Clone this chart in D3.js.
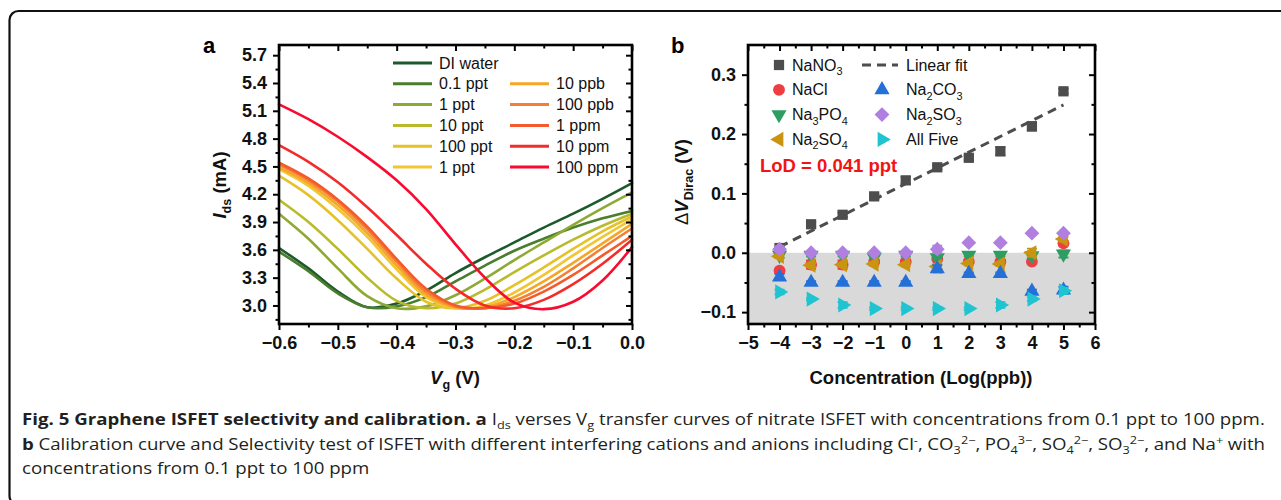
<!DOCTYPE html>
<html>
<head>
<meta charset="utf-8">
<script src="https://cdn.jsdelivr.net/npm/d3@7"></script>
<style>
  body{margin:0;background:#fff;}
  svg{display:block;font-family:"Liberation Sans",Arial,sans-serif;}
</style>
</head>
<body>
<script>
// ---- panel a: Ids vs Vg transfer curves ----
const vg = [-0.6,-0.55,-0.5,-0.45,-0.4,-0.35,-0.3,-0.25,-0.2,-0.15,-0.1,-0.05,0.0];
const idsDIwater = [3.62,3.40,3.15,2.98,3.02,3.16,3.35,3.52,3.68,3.84,3.99,4.15,4.32];
const ids01ppt   = [3.58,3.37,3.13,2.98,2.99,3.09,3.26,3.43,3.59,3.72,3.84,3.94,4.02];
const ids1ppt    = [3.99,3.72,3.40,3.10,2.97,2.99,3.11,3.29,3.49,3.68,3.87,4.05,4.22];
const ids10ppt   = [4.14,3.90,3.61,3.30,3.05,2.97,3.02,3.17,3.36,3.54,3.71,3.86,3.99];
const ids100ppt  = [4.40,4.19,3.92,3.61,3.29,3.04,2.97,3.05,3.22,3.41,3.61,3.80,3.96];
const ids1pptB   = [4.47,4.29,4.04,3.74,3.39,3.09,2.97,3.00,3.14,3.33,3.54,3.74,3.93];
const ids10ppb   = [4.49,4.32,4.08,3.78,3.43,3.12,2.98,2.98,3.09,3.26,3.46,3.67,3.88];
const ids100ppb  = [4.52,4.35,4.12,3.82,3.47,3.15,2.99,2.97,3.05,3.20,3.40,3.62,3.83];
const ids1ppm    = [4.54,4.37,4.14,3.85,3.50,3.18,3.00,2.97,3.02,3.15,3.33,3.54,3.75];
const ids10ppm   = [4.73,4.55,4.33,4.06,3.76,3.45,3.18,3.00,2.97,3.06,3.23,3.45,3.71];
const ids100ppm  = [5.17,5.01,4.82,4.60,4.35,4.04,3.66,3.30,3.03,2.96,3.04,3.27,3.63];
const curveNames = ["DI water","0.1 ppt","1 ppt","10 ppt","100 ppt","1 ppt",
                    "10 ppb","100 ppb","1 ppm","10 ppm","100 ppm"];
const curveSeries = [idsDIwater,ids01ppt,ids1ppt,ids10ppt,ids100ppt,ids1pptB,
                     ids10ppb,ids100ppb,ids1ppm,ids10ppm,ids100ppm];
const curveColors = ["#1c5a2b","#4a7d2c","#8fa935","#b9bb2c","#e6c229","#f1c534",
                     "#f5a627","#f47f32","#f45a2b","#f42b2b","#fb0a30"];
const vgTicks = [-0.6,-0.5,-0.4,-0.3,-0.2,-0.1,0.0];
const vgMinor = [-0.55,-0.45,-0.35,-0.25,-0.15,-0.05];
const idsTicks = [3.0,3.3,3.6,3.9,4.2,4.5,4.8,5.1,5.4,5.7];
const idsMinor = [2.85,3.15,3.45,3.75,4.05,4.35,4.65,4.95,5.25,5.55];

// ---- panel b: calibration + selectivity ----
const logConc = [-4,-3,-2,-1,0,1,2,3,4,5];
const dvNaNO3  = [0.008,0.048,0.064,0.095,0.122,0.144,0.160,0.171,0.213,0.272];
const errNaNO3 = [0.004,0.004,0.004,0.004,0.006,0.003,0.004,0.007,0.007,0.004];
const dvNaCl   = [-0.030,-0.020,-0.020,-0.015,-0.015,-0.010,-0.015,-0.015,-0.015,0.016];
const errNaCl  = [0.003,0.007,0.007,0.003,0.003,0.004,0.003,0.003,0.003,0.003];
const dvNa3PO4 = [-0.004,-0.004,-0.004,-0.008,-0.004,-0.008,-0.004,-0.004,-0.005,-0.002];
const errNa3PO4= [0.004,0.002,0.002,0.002,0.002,0.003,0.002,0.002,0.004,0.006];
const dvNa2SO4 = [-0.006,-0.021,-0.020,-0.019,-0.020,-0.023,-0.018,-0.019,0.000,0.023];
const errNa2SO4= [0.003,0.003,0.003,0.003,0.003,0.004,0.003,0.003,0.007,0.004];
const dvNa2CO3 = [-0.041,-0.050,-0.050,-0.050,-0.050,-0.027,-0.035,-0.035,-0.065,-0.063];
const errNa2CO3= [0.005,0.002,0.002,0.002,0.002,0.006,0.002,0.002,0.003,0.006];
const dvNa2SO3 = [0.006,0.000,0.000,0.000,0.000,0.006,0.017,0.017,0.033,0.033];
const errNa2SO3= [0.005,0.000,0.000,0.000,0.000,0.006,0.000,0.000,0.000,0.000];
const dvAllFive= [-0.066,-0.078,-0.088,-0.094,-0.094,-0.094,-0.094,-0.088,-0.078,-0.064];
const errAllFive=[0.004,0.002,0.005,0.002,0.002,0.002,0.002,0.005,0.003,0.005];
const fitX = [-4,5];
const fitY = [0.010,0.249];
const concTicks = [-5,-4,-3,-2,-1,0,1,2,3,4,5,6];
const concMinor = [-4.5,-3.5,-2.5,-1.5,-0.5,0.5,1.5,2.5,3.5,4.5,5.5];
const dvTicks = [-0.1,0.0,0.1,0.2,0.3];
const dvMinor = [-0.05,0.05,0.15,0.25];

(function(){
  const W = 1281, H = 500;
  const svg = d3.select("body").append("svg").attr("width",W).attr("height",H);

  // rounded figure box (right and bottom edges run off the page)
  svg.append("rect").attr("x",9.5).attr("y",11).attr("width",1320).attr("height",494)
    .attr("rx",9).attr("fill","none").attr("stroke","#111").attr("stroke-width",2.2);

  // sub/superscript helper
  function rich(sel, parts, size){
    let cur = 0;
    parts.forEach(p=>{
      let s = p.sub ? size*0.28 : (p.sup ? -size*0.4 : 0);
      let ts = sel.append("tspan").text(p.t);
      if(s-cur !== 0) ts.attr("dy", s-cur);
      cur = s;
      if(p.sub||p.sup) ts.attr("font-size", size*0.68);
      if(p.b) ts.attr("font-weight","bold");
      if(p.i) ts.attr("font-style","italic");
      if(p.n) ts.attr("font-weight","normal");
    });
    return sel;
  }

  // axes with outward ticks bottom/left, inward on top/right, boxed frame
  function frame(g, x, y, xt, xm, yt, ym, xf, yf){
    let [x0,x1] = x.range(), [yb,yt0] = y.range();
    let add = (ax, tr) => {
      let a = g.append("g").attr("transform",tr).call(ax);
      a.select(".domain").remove();
      a.selectAll("line").attr("stroke","#000").attr("stroke-width",2);
      a.selectAll("text").attr("font-size",18).attr("font-weight","bold")
        .attr("fill","#111").attr("font-family",'"Liberation Sans",Arial,sans-serif');
      return a;
    };
    add(d3.axisBottom(x).tickValues(xt).tickSize(6).tickPadding(6).tickFormat(xf), `translate(0,${yb})`);
    add(d3.axisBottom(x).tickValues(xm).tickSize(3.5).tickFormat(""), `translate(0,${yb})`);
    add(d3.axisTop(x).tickValues(xt).tickSize(-6).tickFormat(""), `translate(0,${yt0})`);
    add(d3.axisTop(x).tickValues(xm).tickSize(-3.5).tickFormat(""), `translate(0,${yt0})`);
    add(d3.axisLeft(y).tickValues(yt).tickSize(6).tickPadding(6).tickFormat(yf), `translate(${x0},0)`);
    add(d3.axisLeft(y).tickValues(ym).tickSize(3.5).tickFormat(""), `translate(${x0},0)`);
    add(d3.axisRight(y).tickValues(yt).tickSize(-6).tickFormat(""), `translate(${x1},0)`);
    add(d3.axisRight(y).tickValues(ym).tickSize(-3.5).tickFormat(""), `translate(${x1},0)`);
    g.append("rect").attr("x",x0).attr("y",yt0).attr("width",x1-x0).attr("height",yb-yt0)
      .attr("fill","none").attr("stroke","#000").attr("stroke-width",2.6);
  }

  // ================= panel a =================
  let ga = svg.append("g");
  let xA = d3.scaleLinear().domain([-0.6,0]).range([279,632]);
  let yA = d3.scaleLinear().domain([2.8,5.81]).range([324,45]);

  let line = d3.line().x(d=>xA(d[0])).y(d=>yA(d[1])).curve(d3.curveCatmullRom.alpha(0.5));
  curveSeries.forEach((s,i)=>{
    ga.append("path").datum(vg.map((v,j)=>[v,s[j]]))
      .attr("d",line).attr("fill","none").attr("stroke",curveColors[i])
      .attr("stroke-width",2.6).attr("stroke-linecap","round");
  });

  frame(ga, xA, yA, vgTicks, vgMinor, idsTicks, idsMinor, d3.format(".1f"), d3.format(".1f"));

  // legend a
  let legA = ga.append("g");
  curveNames.forEach((nm,i)=>{
    let col = i<6 ? 0 : 1;
    let row = i<6 ? i : i-5;
    let lx = col ? 510 : 393, ly = 63 + row*20.8;
    legA.append("line").attr("x1",lx).attr("x2",lx+39).attr("y1",ly).attr("y2",ly)
      .attr("stroke",curveColors[i]).attr("stroke-width",3);
    legA.append("text").attr("x",lx+46).attr("y",ly+5.5).attr("font-size",16)
      .attr("fill","#111").text(nm);
  });

  ga.append("text").attr("x",203).attr("y",53).attr("font-size",22).attr("font-weight","bold").text("a");
  rich(ga.append("text").attr("x",455).attr("y",384).attr("text-anchor","middle")
        .attr("font-size",18.5).attr("font-weight","bold").attr("fill","#111"),
       [{t:"V",i:1},{t:"g",sub:1},{t:" (V)"}],18.5);
  rich(ga.append("text").attr("transform","translate(226,185) rotate(-90)").attr("text-anchor","middle")
        .attr("font-size",18.5).attr("font-weight","bold").attr("fill","#111"),
       [{t:"I",i:1},{t:"ds",sub:1},{t:" (mA)"}],18.5);

  // ================= panel b =================
  let gb = svg.append("g");
  let xB = d3.scaleLinear().domain([-5,6]).range([748,1095]);
  let yB = d3.scaleLinear().domain([-0.12,0.35]).range([324,45]);

  gb.append("rect").attr("x",xB(-5)).attr("y",yB(0)).attr("width",xB(6)-xB(-5))
    .attr("height",yB(-0.12)-yB(0)).attr("fill","#d9d9d9");

  gb.append("path").datum(fitX.map((v,i)=>[v,fitY[i]]))
    .attr("d",d3.line().x(d=>xB(d[0])).y(d=>yB(d[1])))
    .attr("fill","none").attr("stroke","#4d4d4d").attr("stroke-width",3)
    .attr("stroke-dasharray","9,6");

  let series = [
    {v:dvNaNO3, e:errNaNO3, c:"#4d4d4d", sym:d3.symbolSquare, r:0, s:105},
    {v:dvNaCl, e:errNaCl, c:"#ef3e42", sym:d3.symbolCircle, r:0, s:110},
    {v:dvNa3PO4, e:errNa3PO4, c:"#2e9d62", sym:d3.symbolTriangle, r:180, s:100},
    {v:dvNa2SO4, e:errNa2SO4, c:"#c99410", sym:d3.symbolTriangle, r:-90, s:100},
    {v:dvNa2CO3, e:errNa2CO3, c:"#2470d8", sym:d3.symbolTriangle, r:0, s:100},
    {v:dvNa2SO3, e:errNa2SO3, c:"#b07fe0", sym:d3.symbolSquare, r:45, s:110},
    {v:dvAllFive, e:errAllFive, c:"#1fc4d0", sym:d3.symbolTriangle, r:90, s:100}
  ];
  series.forEach(sr=>{
    let g = gb.append("g");
    logConc.forEach((lc,i)=>{
      let cx = xB(lc), v = sr.v[i], er = sr.e[i];
      if(er>0){
        let yt = yB(v+er), ybt = yB(v-er);
        g.append("path").attr("d",`M${cx},${yt}V${ybt}M${cx-5},${yt}H${cx+5}M${cx-5},${ybt}H${cx+5}`)
          .attr("stroke",sr.c).attr("stroke-width",1.8).attr("fill","none");
      }
      g.append("path").attr("d",d3.symbol().type(sr.sym).size(sr.s)())
        .attr("transform",`translate(${cx},${yB(v)}) rotate(${sr.r})`).attr("fill",sr.c);
    });
  });

  frame(gb, xB, yB, concTicks, concMinor, dvTicks, dvMinor, d3.format("d"), d3.format(".1f"));

  // legend b
  let legB = gb.append("g");
  let legItems = [
    {col:0,row:0,k:0,parts:[{t:"NaNO"},{t:"3",sub:1}]},
    {col:0,row:1,k:1,parts:[{t:"NaCl"}]},
    {col:0,row:2,k:2,parts:[{t:"Na"},{t:"3",sub:1},{t:"PO"},{t:"4",sub:1}]},
    {col:0,row:3,k:3,parts:[{t:"Na"},{t:"2",sub:1},{t:"SO"},{t:"4",sub:1}]},
    {col:1,row:0,k:-1,parts:[{t:"Linear fit"}]},
    {col:1,row:1,k:4,parts:[{t:"Na"},{t:"2",sub:1},{t:"CO"},{t:"3",sub:1}]},
    {col:1,row:2,k:5,parts:[{t:"Na"},{t:"2",sub:1},{t:"SO"},{t:"3",sub:1}]},
    {col:1,row:3,k:6,parts:[{t:"All Five"}]}
  ];
  legItems.forEach(it=>{
    let ly = 65 + it.row*24.8;
    let mx = it.col ? 882 : 779, tx = it.col ? 906 : 792;
    if(it.k<0){
      legB.append("line").attr("x1",862).attr("x2",898).attr("y1",ly).attr("y2",ly)
        .attr("stroke","#4d4d4d").attr("stroke-width",3).attr("stroke-dasharray","9,6");
    } else {
      let sr = series[it.k];
      legB.append("path").attr("d",d3.symbol().type(sr.sym).size(sr.s)())
        .attr("transform",`translate(${mx},${ly}) rotate(${sr.r})`).attr("fill",sr.c);
    }
    rich(legB.append("text").attr("x",tx).attr("y",ly+5.5).attr("font-size",16).attr("fill","#111"),
         it.parts,16);
  });

  gb.append("text").attr("x",760).attr("y",172).attr("font-size",18.5).attr("font-weight","bold")
    .attr("fill","#f21414").text("LoD = 0.041 ppt");

  gb.append("text").attr("x",671).attr("y",53).attr("font-size",22).attr("font-weight","bold").text("b");
  gb.append("text").attr("x",921).attr("y",384).attr("text-anchor","middle")
    .attr("font-size",18.5).attr("font-weight","bold").attr("fill","#111").text("Concentration (Log(ppb))");
  rich(gb.append("text").attr("transform","translate(688,182) rotate(-90)").attr("text-anchor","middle")
        .attr("font-size",18.5).attr("font-weight","bold").attr("fill","#111"),
       [{t:"\u0394",n:1},{t:"V",i:1},{t:"Dirac",sub:1},{t:" (V)"}],18.5);

  // ================= caption =================
  let capLines = [
    {y:425, w:1244, parts:[{t:"Fig. 5 Graphene ISFET selectivity and calibration.",b:1},{t:" "},{t:"a",b:1},
      {t:" I"},{t:"ds",sub:1},{t:" verses V"},{t:"g",sub:1},
      {t:" transfer curves of nitrate ISFET with concentrations from 0.1 ppt to 100 ppm."}]},
    {y:450, w:1243, parts:[{t:"b",b:1},{t:" Calibration curve and Selectivity test of ISFET with different interfering cations and anions including Cl"},
      {t:"-",sup:1},{t:", CO"},{t:"3",sub:1},{t:"2\u2212",sup:1},{t:", PO"},{t:"4",sub:1},{t:"3\u2212",sup:1},
      {t:", SO"},{t:"4",sub:1},{t:"2\u2212",sup:1},{t:", SO"},{t:"3",sub:1},{t:"2\u2212",sup:1},
      {t:", and Na"},{t:"+",sup:1},{t:" with"}]},
    {y:474, w:0, parts:[{t:"concentrations from 0.1 ppt to 100 ppm"}]}
  ];
  const capSize = 16;
  let capTexts = capLines.map(cl=>{
    let t = svg.append("text").attr("x",0).attr("y",0).attr("font-size",capSize)
      .attr("font-family",'"Open Sans",Lato,sans-serif').attr("fill","#231f20");
    rich(t, cl.parts, capSize);
    return t;
  });
  // one horizontal stretch for the whole caption, set by the first line
  let sx = capLines[0].w / capTexts[0].node().getComputedTextLength();
  capTexts.forEach((t,i)=>{
    let cl = capLines[i];
    t.attr("transform",`translate(22,${cl.y}) scale(${sx},1)`);
    if(i===1){
      let nat = t.node().getComputedTextLength();
      let spaces = (t.text().match(/ /g)||[]).length;
      t.attr("word-spacing", (cl.w/sx - nat)/spaces);
    }
  });
})();
</script>
</body>
</html>
